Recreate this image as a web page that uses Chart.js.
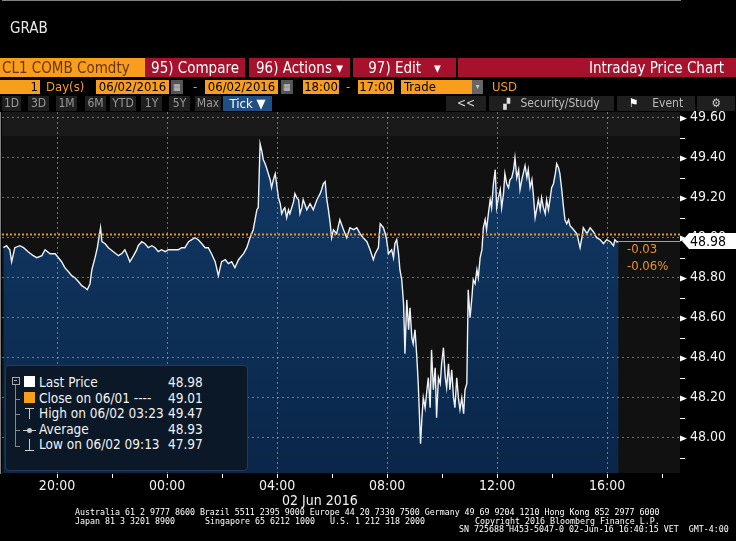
<!DOCTYPE html>
<html>
<head>
<meta charset="utf-8">
<script src="https://cdn.jsdelivr.net/npm/chart.js@4.4.1/dist/chart.umd.min.js"></script>
<style>
body{margin:0;background:#000;width:736px;height:541px;overflow:hidden;position:relative;
  font-family:"Liberation Sans Narrow","DejaVu Sans Condensed","Liberation Sans",sans-serif;color:#fff}
canvas{position:absolute;left:0;top:0}
.abs{position:absolute;white-space:nowrap}
.b1{position:absolute;top:58px;height:19px;line-height:20px;font-size:15px;white-space:nowrap}
.org{background:#f99d1c;color:#6a3600}
.red{background:#a6112b;color:#fff;text-align:center}
.b2{position:absolute;top:80px;height:14px;line-height:14px;font-size:13px;white-space:nowrap;color:#000}
.otx{color:#f99d1c;background:none}
.b3{position:absolute;top:96px;height:15px;line-height:15px;font-size:12px;background:#1f1f1f;color:#9a9a9a;text-align:center;white-space:nowrap}
.ft{position:absolute;font-family:"DejaVu Sans Mono",monospace;font-size:8.3px;line-height:9px;color:#fff;white-space:pre}
#legend{position:absolute;left:5px;top:365px;width:241px;height:104px;background:#0b1827;border:1px solid #2a3a4b;border-radius:4px}
.lr{position:absolute;left:33px;font-size:13.5px;line-height:15px;color:#f2f2f2;white-space:nowrap}
.lv{position:absolute;left:162px;font-size:13.5px;line-height:15px;color:#f2f2f2}
</style>
</head>
<body>
<canvas id="grab" width="736" height="541"></canvas>

<div class="abs" style="left:10px;top:19px;font-size:15px;color:#e6e6e6">GRAB</div>

<div class="b1 org" style="left:0;width:143px;padding-left:2px">CL1 COMB Comdty</div>
<div class="b1 red" style="left:145px;width:100px">95) Compare</div>
<div class="b1 red" style="left:249px;width:101px">96) Actions ▾</div>
<div class="b1 red" style="left:353px;width:103px">97) Edit &nbsp;&nbsp;▾</div>
<div class="b1 red" style="left:458px;width:278px;text-align:right;padding-right:0"><span style="margin-right:12px">Intraday Price Chart</span></div>

<div class="b2 org" style="left:0;width:38px;text-align:right;padding-right:2px">1</div>
<div class="b2 otx" style="left:46px">Day(s)</div>
<div class="b2 org" style="left:96px;width:73px;text-align:center">06/02/2016</div>
<div class="b2" style="left:171px;width:12px;background:#555;color:#ccc;font-size:9px;text-align:center">▦</div>
<div class="b2 otx" style="left:193px">-</div>
<div class="b2 org" style="left:205px;width:73px;text-align:center">06/02/2016</div>
<div class="b2" style="left:281px;width:12px;background:#555;color:#ccc;font-size:9px;text-align:center">▦</div>
<div class="b2 org" style="left:303px;width:36px;text-align:center">18:00</div>
<div class="b2 otx" style="left:346px">-</div>
<div class="b2 org" style="left:358px;width:36px;text-align:center">17:00</div>
<div class="b2 org" style="left:401px;width:68px;padding-left:3px">Trade</div>
<div class="b2" style="left:472px;width:11px;background:#666;color:#ccc;font-size:8px;text-align:center">▾</div>
<div class="b2 otx" style="left:492px">USD</div>

<div class="b3" style="left:2px;width:19px">1D</div>
<div class="b3" style="left:28px;width:21px">3D</div>
<div class="b3" style="left:56px;width:21px">1M</div>
<div class="b3" style="left:85px;width:21px">6M</div>
<div class="b3" style="left:110px;width:26px">YTD</div>
<div class="b3" style="left:141px;width:21px">1Y</div>
<div class="b3" style="left:169px;width:21px">5Y</div>
<div class="b3" style="left:195px;width:26px">Max</div>
<div class="b3" style="left:223px;width:49px;background:#1f4f85;color:#fff;font-size:13px">Tick ▼</div>
<div class="b3" style="left:446px;width:40px;color:#ddd">&lt;&lt;</div>
<div class="b3" style="left:489px;width:125px;color:#bbb"><span style="color:#ddd;font-size:10px">▞</span>&nbsp;&nbsp; Security/Study</div>
<div class="b3" style="left:617px;width:78px;color:#bbb"><span style="color:#fff">⚑</span>&nbsp;&nbsp;&nbsp; Event</div>
<div class="b3" style="left:697px;width:38px;color:#ccc">⚙</div>

<div id="legend">
  <div class="abs" style="left:6px;top:11px;width:6px;height:6px;border:1px solid #aaa"></div>
  <div class="abs" style="left:8px;top:14px;width:3px;height:1px;background:#aaa"></div>
  <div class="abs" style="left:9px;top:19px;width:1px;height:62px;background:#888"></div>
  <div class="abs" style="left:9px;top:33px;width:5px;height:1px;background:#888"></div>
  <div class="abs" style="left:9px;top:48px;width:5px;height:1px;background:#888"></div>
  <div class="abs" style="left:9px;top:64px;width:5px;height:1px;background:#888"></div>
  <div class="abs" style="left:9px;top:80px;width:5px;height:1px;background:#888"></div>
  <div class="abs" style="left:18px;top:10px;width:11px;height:11px;background:#fff"></div>
  <div class="abs" style="left:18px;top:26px;width:11px;height:11px;background:#f99d1c"></div>
  <div class="abs" style="left:19px;top:42px;width:9px;height:1px;background:#ccc"></div>
  <div class="abs" style="left:23px;top:42px;width:1px;height:11px;background:#ccc"></div>
  <div class="abs" style="left:17px;top:64px;width:13px;height:1px;background:#ccc"></div>
  <div class="abs" style="left:21px;top:62px;width:5px;height:5px;border-radius:3px;background:#ccc"></div>
  <div class="abs" style="left:23px;top:73px;width:1px;height:11px;background:#ccc"></div>
  <div class="abs" style="left:19px;top:84px;width:9px;height:1px;background:#ccc"></div>
  <div class="lr" style="top:9px">Last Price</div><div class="lv" style="top:9px">48.98</div>
  <div class="lr" style="top:25px">Close on 06/01 ----</div><div class="lv" style="top:25px">49.01</div>
  <div class="lr" style="top:40px">High on 06/02 03:23</div><div class="lv" style="top:40px">49.47</div>
  <div class="lr" style="top:56px">Average</div><div class="lv" style="top:56px">48.93</div>
  <div class="lr" style="top:71px">Low on 06/02 09:13</div><div class="lv" style="top:71px">47.97</div>
</div>

<div class="abs" style="left:627px;top:241px;font-size:13px;color:#e8942a">-0.03</div>
<div class="abs" style="left:627px;top:258px;font-size:13px;color:#e8942a">-0.06%</div>

<div class="abs" style="left:282px;top:492px;font-size:14px;color:#f2f2f2">02 Jun 2016</div>

<div class="ft" style="left:75px;top:508px">Australia 61 2 9777 8600 Brazil 5511 2395 9000 Europe 44 20 7330 7500 Germany 49 69 9204 1210 Hong Kong 852 2977 6000</div>
<div class="ft" style="left:75px;top:517px">Japan 81 3 3201 8900</div>
<div class="ft" style="left:205px;top:517px">Singapore 65 6212 1000</div>
<div class="ft" style="left:330px;top:517px">U.S. 1 212 318 2000</div>
<div class="ft" style="left:475px;top:517px">Copyright 2016 Bloomberg Finance L.P.</div>
<div class="ft" style="left:459px;top:525px">SN 725688 H453-5047-0 02-Jun-16 16:40:15 VET  GMT-4:00</div>

<script>
// minutes after the 18:00 session open (06/01)
const minutesFromOpen = [
  3, 10, 17, 21, 28, 39, 47, 57, 68, 76, 87, 94, 105, 116, 123, 130, 137, 145, 152, 159,
  167, 174, 181, 186, 192, 196, 203, 208, 215, 218, 225, 232, 243, 254, 261, 268,
  272, 279, 287, 294, 297, 305, 312, 319, 327, 334, 341, 348, 356, 363, 374, 385, 392, 399,
  407, 414, 421, 428, 436, 443, 450, 457, 465, 472, 479, 487, 494, 501, 508, 516, 523,
  527, 534, 541, 548, 556, 559, 563, 567, 570, 574, 577, 581, 585, 588, 592, 596, 599, 603,
  607, 610, 614, 617, 621, 625, 628, 636, 639, 643, 647, 650, 654, 657, 665, 672, 679, 687,
  694, 697, 701, 705, 708, 712, 716, 719, 723, 730, 737, 745, 752, 759, 767, 774, 781,
  788, 796, 803, 810, 814, 821, 825, 832, 836, 839, 843, 850, 854, 857, 861, 865, 868, 872,
  876, 879, 883, 887, 890, 894, 897, 901, 905, 908, 913, 916, 919, 923, 927, 930, 934, 937,
  941, 945, 948, 952, 956, 959, 963, 967, 970, 974, 977, 981, 985, 988, 992, 996, 999, 1003,
  1007, 1010, 1014, 1017, 1021, 1025, 1028, 1032, 1036, 1039, 1043, 1047, 1050,
  1054, 1057, 1061, 1065, 1068, 1072, 1076, 1079, 1083, 1087, 1090, 1094, 1097, 1101, 1105,
  1108, 1112, 1116, 1119, 1123, 1127, 1130, 1134, 1137, 1141, 1145, 1148, 1152, 1156, 1159,
  1163, 1167, 1170, 1174, 1177, 1181, 1185, 1188, 1192, 1196, 1199, 1203, 1207, 1210, 1214,
  1217, 1221, 1225, 1228, 1232, 1236, 1239, 1243, 1247, 1254, 1261, 1265, 1268, 1276, 1283,
  1290, 1297, 1305, 1312, 1319, 1327, 1334, 1337, 1341, 1345
]

const lastPrice = [
  48.95, 48.96, 48.94, 48.88, 48.95, 48.96, 48.95, 48.93, 48.91, 48.90, 48.91, 48.94, 48.92, 48.92, 48.90, 48.88, 48.85, 48.83, 48.81, 48.80,
  48.78, 48.76, 48.75, 48.74, 48.77, 48.84, 48.90, 48.95, 49.05, 48.98, 48.97, 48.95, 48.93, 48.91, 48.92, 48.94,
  48.92, 48.88, 48.91, 48.94, 48.96, 48.98, 48.97, 48.95, 48.96, 48.95, 48.93, 48.94, 48.93, 48.94, 48.94, 48.94, 48.95, 48.95,
  48.98, 48.99, 49.00, 48.99, 48.97, 48.95, 48.95, 48.92, 48.88, 48.81, 48.88, 48.89, 48.87, 48.88, 48.85, 48.89, 48.91,
  48.92, 48.95, 49.00, 49.04, 49.14, 49.15, 49.47, 49.43, 49.39, 49.37, 49.35, 49.32, 49.29, 49.25, 49.29, 49.32, 49.27, 49.20,
  49.17, 49.12, 49.14, 49.15, 49.10, 49.14, 49.12, 49.18, 49.22, 49.20, 49.19, 49.12, 49.15, 49.19, 49.14, 49.17, 49.14, 49.19,
  49.22, 49.24, 49.27, 49.28, 49.20, 49.14, 49.07, 49.00, 49.04, 49.02, 49.09, 49.04, 49.00, 49.05, 49.04, 49.05, 49.02,
  49.00, 48.98, 48.94, 48.89, 48.92, 48.95, 49.07, 49.05, 49.02, 48.99, 48.92, 48.94, 48.90, 48.97, 48.99, 48.92, 48.84, 48.79,
  48.67, 48.42, 48.69, 48.54, 48.65, 48.50, 48.47, 48.54, 48.40, 48.27, 47.97, 48.10, 48.20, 48.15, 48.24, 48.30, 48.15, 48.44,
  48.24, 48.35, 48.10, 48.30, 48.27, 48.37, 48.45, 48.30, 48.25, 48.37, 48.24, 48.34, 48.20, 48.15, 48.30, 48.19, 48.14, 48.20,
  48.12, 48.24, 48.27, 48.74, 48.60, 48.70, 48.79, 48.77, 48.84, 48.80, 48.90, 48.94, 49.05,
  49.09, 49.04, 49.12, 49.19, 49.15, 49.27, 49.34, 49.15, 49.20, 49.24, 49.15, 49.22, 49.32, 49.27, 49.25,
  49.29, 49.30, 49.34, 49.40, 49.30, 49.34, 49.24, 49.29, 49.32, 49.36, 49.30, 49.34, 49.25, 49.29, 49.22,
  49.10, 49.15, 49.19, 49.14, 49.20, 49.15, 49.12, 49.19, 49.14, 49.20, 49.25, 49.27, 49.32, 49.37, 49.35,
  49.32, 49.24, 49.15, 49.09, 49.07, 49.09, 49.06, 49.05, 49.04, 49.02, 48.95, 49.00, 49.05, 49.02, 49.05,
  49.03, 49.00, 48.99, 48.97, 48.99, 48.98, 48.96, 48.99, 48.98, 48.98
]

const closePrev = 49.01
const timeTicks = [120, 240, 360, 480, 600, 720, 840, 960, 1080, 1200, 1320, 1440]
const timeLabels = ["20:00", "", "00:00", "", "04:00", "", "08:00", "", "12:00", "", "16:00", ""]
const priceTicks = [47.9, 48.0, 48.1, 48.2, 48.3, 48.4, 48.5, 48.6, 48.7, 48.8, 48.9, 49.0, 49.1, 49.2, 49.3, 49.4, 49.5, 49.6]
const priceLabels = ["", "48.00", "", "48.20", "", "48.40", "", "48.60", "", "48.80", "", "49.00", "", "49.20", "", "49.40", "", "49.60"]

const points = minutesFromOpen.map((m, i) => ({ x: m, y: lastPrice[i] }))

const grid = "rgba(190,190,190,0.55)"
const amber = "#e8942a"
const font = "'Liberation Sans Narrow','DejaVu Sans Condensed','Liberation Sans',sans-serif"

const bloombergBits = {
	id: "bloombergBits",
	beforeDraw(chart) {
		const { ctx, chartArea: a } = chart
		ctx.save()
		ctx.fillStyle = "#111111"
		ctx.fillRect(a.left, a.top, a.right - a.left, a.bottom - a.top)
		ctx.fillStyle = "#1a1a1a"
		ctx.fillRect(a.left, a.top, a.right - a.left, 24)
		ctx.restore()
	},
	afterDatasetsDraw(chart) {
		const { ctx, chartArea: a, scales } = chart
		const yc = Math.round(scales.y.getPixelForValue(closePrev)) - 1.5
		ctx.save()
		ctx.strokeStyle = amber
		ctx.lineWidth = 2
		ctx.setLineDash([2, 2])
		ctx.beginPath()
		ctx.moveTo(a.left, yc)
		ctx.lineTo(a.right, yc)
		ctx.stroke()
		const last = lastPrice[lastPrice.length - 1]
		const yl = Math.round(scales.y.getPixelForValue(last)) - 0.5
		const xl = scales.x.getPixelForValue(minutesFromOpen[minutesFromOpen.length - 1])
		ctx.setLineDash([])
		ctx.lineWidth = 1
		ctx.beginPath()
		ctx.moveTo(xl, yl)
		ctx.lineTo(a.right, yl)
		ctx.stroke()
		ctx.restore()
	},
	afterDraw(chart) {
		const { ctx, chartArea: a, scales } = chart
		ctx.save()
		ctx.fillStyle = "#fff"
		ctx.strokeStyle = "#fff"
		priceTicks.forEach((v, i) => {
			const y = Math.round(scales.y.getPixelForValue(v)) + 0.5
			if (y < a.top || y > a.bottom) return
			if (priceLabels[i]) {
				ctx.beginPath()
				ctx.moveTo(a.right, y - 3)
				ctx.lineTo(a.right + 7, y)
				ctx.lineTo(a.right, y + 3)
				ctx.closePath()
				ctx.fill()
			} else {
				ctx.beginPath()
				ctx.moveTo(a.right, y)
				ctx.lineTo(a.right + 5, y)
				ctx.stroke()
			}
		})
		// last price tag on the axis
		const last = lastPrice[lastPrice.length - 1]
		const yl = Math.round(scales.y.getPixelForValue(last)) - 1
		ctx.beginPath()
		ctx.moveTo(a.right + 2, yl)
		ctx.lineTo(a.right + 9, yl - 8)
		ctx.lineTo(736, yl - 8)
		ctx.lineTo(736, yl + 8)
		ctx.lineTo(a.right + 9, yl + 8)
		ctx.closePath()
		ctx.fill()
		ctx.fillStyle = "#000"
		ctx.font = "14px " + font
		ctx.textBaseline = "middle"
		ctx.fillText(last.toFixed(2), a.right + 10, yl + 1)
		ctx.restore()
	}
}

const cv = document.getElementById("grab")

new Chart(cv, {
	type: "line",
	data: {
		datasets: [{
			label: "Last Price",
			data: points,
			borderColor: "#eef2f7",
			borderWidth: 1.4,
			pointRadius: 0,
			tension: 0,
			fill: "start",
			backgroundColor(c) {
				const area = c.chart.chartArea
				if (!area) return "#0e3360"
				const g = c.chart.ctx.createLinearGradient(0, area.top, 0, area.bottom)
				g.addColorStop(0, "#123b68")
				g.addColorStop(1, "#0a2649")
				return g
			}
		}]
	},
	options: {
		responsive: false,
		animation: false,
		devicePixelRatio: 1,
		layout: { padding: { left: 2, top: 112, right: 0, bottom: 0 } },
		plugins: { legend: { display: false }, tooltip: { enabled: false } },
		scales: {
			x: {
				type: "linear",
				min: 0,
				max: 1479,
				afterBuildTicks(s) { s.ticks = timeTicks.map(v => ({ value: v })) },
				afterFit(s) { s.height = 68 },
				ticks: {
					autoSkip: false,
					maxRotation: 0,
					padding: 0,
					color: "#f2f2f2",
					font: { family: font, size: 14 },
					callback: (v, i) => timeLabels[i]
				},
				grid: {
					z: 1,
					color: c => (c.tick && timeLabels[timeTicks.indexOf(c.tick.value)]) ? grid : "transparent",
					tickColor: "#fff",
					tickLength: 5,
					tickBorderDash: []
				},
				border: { color: "#fff", width: 1, dash: [2, 3] }
			},
			y: {
				position: "right",
				min: 47.8235,
				max: 49.6285,
				afterBuildTicks(s) { s.ticks = priceTicks.map(v => ({ value: v })) },
				afterFit(s) { s.width = 56 },
				ticks: {
					autoSkip: false,
					padding: 10,
					color: "#f2f2f2",
					font: { family: font, size: 14 },
					callback: (v, i) => priceLabels[i]
				},
				grid: {
					z: 1,
					drawTicks: false,
					color: c => (c.tick && priceLabels[priceTicks.indexOf(c.tick.value)]) ? grid : "transparent"
				},
				border: { color: "#fff", width: 1, dash: [2, 3] }
			}
		}
	},
	plugins: [bloombergBits]
})
</script>
</body>
</html>
